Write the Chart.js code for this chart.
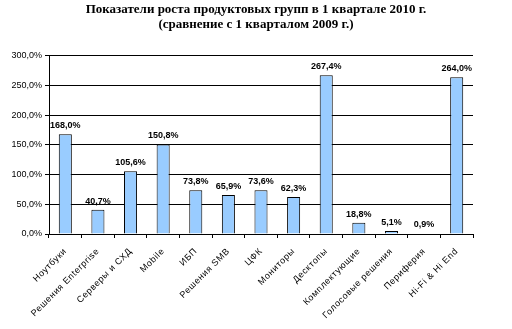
<!DOCTYPE html>
<html>
<head>
<meta charset="utf-8">
<script src="https://cdn.jsdelivr.net/npm/chart.js@4.4.1/dist/chart.umd.min.js"></script>
<style>
  html, body { margin: 0; padding: 0; background: #fff; }
  canvas { display: block; }
</style>
</head>
<body>
<canvas id="myChart" width="512" height="329"></canvas>
<script>
var titleLines = [
  "Показатели роста продуктовых групп в 1 квартале 2010 г.",
  "(сравнение с 1 кварталом 2009 г.)"
];
var categories = [
  "Ноутбуки",
  "Решения Enterprise",
  "Серверы и СХД",
  "Mobile",
  "ИБП",
  "Решения SMB",
  "ЦФК",
  "Мониторы",
  "Десктопы",
  "Комплектующие",
  "Голосовые решения",
  "Периферия",
  "Hi-Fi & Hi End"
];
var growth = [168.0, 40.7, 105.6, 150.8, 73.8, 65.9, 73.6, 62.3, 267.4, 18.8, 5.1, 0.9, 264.0];
var yTicks = [0, 50, 100, 150, 200, 250, 300];

var sans = "'Liberation Sans', Arial, sans-serif";

function pct(v) {
  return v.toFixed(1).replace('.', ',') + '%';
}

// value labels above the bars
var valueLabels = {
  id: 'valueLabels',
  afterDatasetsDraw: function(chart) {
    var ctx = chart.ctx;
    var meta = chart.getDatasetMeta(0);
    ctx.save();
    ctx.font = 'bold 9px ' + sans;
    ctx.fillStyle = '#000';
    ctx.textAlign = 'center';
    ctx.textBaseline = 'bottom';
    meta.data.forEach(function(bar, i) {
      ctx.fillText(pct(growth[i]), bar.x, bar.y - 4);
    });
    ctx.restore();
  }
};

var ctx = document.getElementById("myChart");
var myChart = new Chart(ctx, {
  type: 'bar',
  data: {
    labels: categories,
    datasets: [{
      data: growth,
      backgroundColor: '#99CCFF',
      borderColor: '#000',
      borderWidth: 1,
      barPercentage: 0.4,
      categoryPercentage: 1
    }]
  },
  options: {
    responsive: false,
    animation: false,
    layout: { padding: 0 },
    plugins: {
      legend: { display: false },
      tooltip: { enabled: false },
      title: {
        display: true,
        text: titleLines,
        color: '#000',
        font: { family: "'Liberation Serif', 'Times New Roman', serif", size: 13, weight: 'bold', lineHeight: 1.15 },
        padding: { top: 2, bottom: 24 }
      }
    },
    scales: {
      x: {
        grid: {
          display: true,
          offset: true,
          drawOnChartArea: false,
          drawTicks: true,
          tickLength: 4,
          color: '#000'
        },
        border: { display: true, color: '#000' },
        ticks: {
          autoSkip: false,
          maxRotation: 45,
          minRotation: 45,
          padding: 8,
          color: '#000',
          font: { family: sans, size: 9 }
        },
        afterFit: function(scale) {
          scale.height = 95;
          // the category names in the original are spaced out a little
          if (!scale._spaced) {
            var draw = scale.drawLabels;
            scale.drawLabels = function(area) {
              this.ctx.save();
              this.ctx.letterSpacing = '0.6px';
              draw.call(this, area);
              this.ctx.restore();
            };
            scale._spaced = true;
          }
        }
      },
      y: {
        min: 0,
        max: 300,
        afterBuildTicks: function(scale) {
          scale.ticks = yTicks.map(function(v) { return { value: v }; });
        },
        grid: {
          color: '#000',
          drawTicks: true,
          tickLength: 4
        },
        border: { display: true, color: '#000' },
        ticks: {
          padding: 3,
          color: '#000',
          font: { family: sans, size: 9 },
          callback: function(v) { return pct(v); }
        },
        afterFit: function(scale) { scale.width = 49; }
      },
      spacer: {
        position: 'right',
        display: true,
        grid: { display: false },
        border: { display: false },
        ticks: { display: false },
        afterFit: function(scale) { scale.width = 39; }
      }
    }
  },
  plugins: [valueLabels]
});
</script>
</body>
</html>
